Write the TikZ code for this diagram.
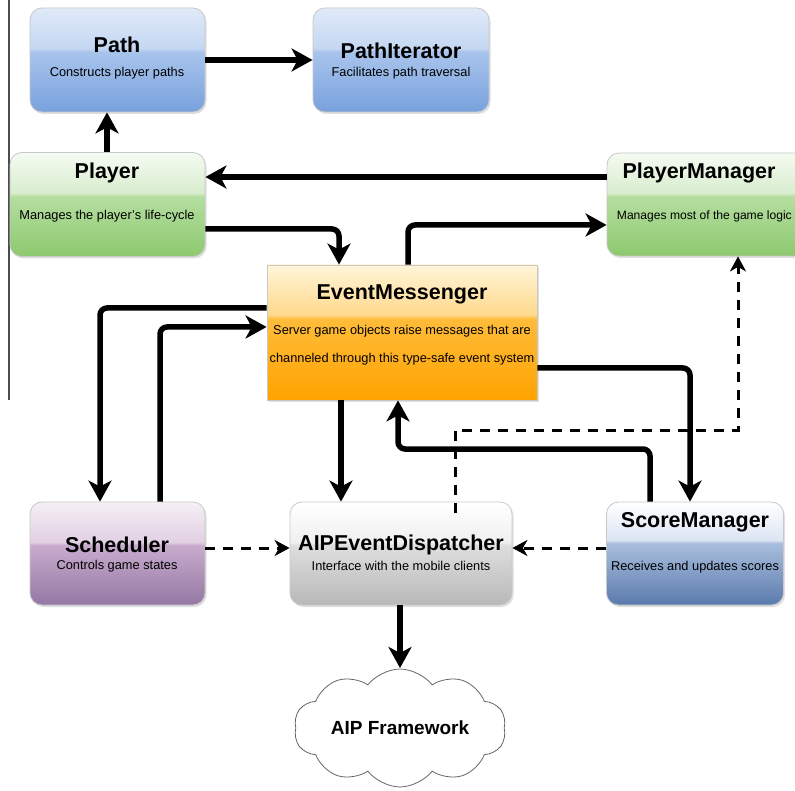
\documentclass[tikz,border=0pt]{standalone}
\usepackage{fontspec}
\setmainfont{Liberation Sans}
\usetikzlibrary{arrows.meta,shapes.symbols,shadows}

\definecolor{bT}{HTML}{E0EAF8}\definecolor{bM}{HTML}{C4D7F2}\definecolor{bL}{HTML}{A8C4EC}\definecolor{bB}{HTML}{78A1DC}
\definecolor{gT}{HTML}{F5FBF2}\definecolor{gM}{HTML}{D8EDCE}\definecolor{gL}{HTML}{B5DEA0}\definecolor{gB}{HTML}{8DC96F}
\definecolor{oT}{HTML}{FFF5D8}\definecolor{oM}{HTML}{FFD98C}\definecolor{oL}{HTML}{FFBC3A}\definecolor{oB}{HTML}{FFA300}
\definecolor{pT}{HTML}{F6EFF6}\definecolor{pM}{HTML}{E1D0E3}\definecolor{pL}{HTML}{C8ABCD}\definecolor{pB}{HTML}{9478A3}
\definecolor{kT}{HTML}{FFFFFF}\definecolor{kM}{HTML}{F0F0F0}\definecolor{kL}{HTML}{DEDEDE}\definecolor{kB}{HTML}{B8B8B8}
\definecolor{sT}{HTML}{FFFFFF}\definecolor{sM}{HTML}{DCE5F3}\definecolor{sL}{HTML}{A9BEDD}\definecolor{sB}{HTML}{5A7AAD}
\definecolor{edge}{HTML}{C8C8C8}

\pgfdeclareverticalshading{blueglass}{100bp}{color(0bp)=(bB); color(25bp)=(bB); color(54bp)=(bL); color(55.5bp)=(bM); color(75bp)=(bT); color(100bp)=(bT)}
\pgfdeclareverticalshading{greenglass}{100bp}{color(0bp)=(gB); color(25bp)=(gB); color(54bp)=(gL); color(55.5bp)=(gM); color(75bp)=(gT); color(100bp)=(gT)}
\pgfdeclareverticalshading{orangeglass}{100bp}{color(0bp)=(oB); color(25bp)=(oB); color(55bp)=(oL); color(56.5bp)=(oM); color(75bp)=(oT); color(100bp)=(oT)}
\pgfdeclareverticalshading{purpleglass}{100bp}{color(0bp)=(pB); color(25bp)=(pB); color(54bp)=(pL); color(55.5bp)=(pM); color(75bp)=(pT); color(100bp)=(pT)}
\pgfdeclareverticalshading{grayglass}{100bp}{color(0bp)=(kB); color(25bp)=(kB); color(54bp)=(kL); color(55.5bp)=(kM); color(75bp)=(kT); color(100bp)=(kT)}
\pgfdeclareverticalshading{steelglass}{100bp}{color(0bp)=(sB); color(25bp)=(sB); color(55bp)=(sL); color(56.5bp)=(sM); color(75bp)=(sT); color(100bp)=(sT)}

\tikzset{
  box/.style={rectangle, rounded corners=12pt, draw=edge, line width=0.8pt,
    inner sep=0pt, drop shadow={shadow xshift=1.5pt, shadow yshift=-2pt, opacity=0.25}},
  sqbox/.style={box, rounded corners=0pt},
  ttl/.style={font=\bfseries\fontsize{21.5}{23}\selectfont, inner sep=0pt},
  sub/.style={font=\fontsize{12.8}{14}\selectfont, inner sep=0pt},
  conn/.style={line width=5.5pt, rounded corners=7pt,
    -{Stealth[length=21pt,width=23pt,inset=6pt]}},
  dconn/.style={line width=3pt, dash pattern=on 10pt off 8pt,
    -{Stealth[length=15pt,width=16pt,inset=4.5pt]}},
}

\begin{document}
\begin{tikzpicture}[x=1pt,y=-1pt]
\useasboundingbox (0,0) rectangle (795,791);
\fill[white] (0,0) rectangle (795,791);
\draw[line width=1.4pt, black!70] (9,0) coordinate (lt) -- (9,400) coordinate (lb);

% boxes
\node[box, shading=blueglass, minimum width=175pt, minimum height=104pt] (path) at (117.5,60) {};
\node[box, shading=blueglass, minimum width=176pt, minimum height=104pt] (iter) at (401,60) {};
\node[box, shading=greenglass, minimum width=195pt, minimum height=104pt] (player) at (107.5,204.5) {};
\node[box, shading=greenglass, minimum width=203pt, minimum height=103pt] (pm) at (708.5,204.5) {};
\node[sqbox, shading=orangeglass, minimum width=270pt, minimum height=135pt] (em) at (402,332.5) {};
\node[box, shading=purpleglass, minimum width=175pt, minimum height=103pt] (sched) at (117.5,553.5) {};
\node[box, shading=grayglass, minimum width=222pt, minimum height=103pt] (aip) at (401,553.5) {};
\node[box, shading=steelglass, minimum width=177pt, minimum height=103pt] (score) at (695,553.5) {};
\node[cloud, cloud puffs=10, cloud puff arc=105, aspect=2, draw=black!60, line width=0.8pt,
  fill=white, minimum width=212pt, minimum height=118pt, inner sep=0pt] (cloud) at (400,728) {};

% texts
\node[ttl] (pathT) at (117,45) {Path};
\node[sub] (pathS) at (117,73) {Constructs player paths};
\node[ttl] (iterT) at (401,51) {PathIterator};
\node[sub] (iterS) at (401,73) {Facilitates path traversal};
\node[ttl] (playerT) at (107,173) {Player};
\node[sub] (playerS) at (107,216) {Manages the player's life-cycle};
\node[ttl] (pmT) at (699,173) {PlayerManager};
\node[sub, font=\fontsize{12.1}{14}\selectfont, anchor=east] (pmS) at (792,216) {Manages most of the game logic};
\node[ttl] (emT) at (402,294) {EventMessenger};
\node[sub] (emS1) at (402,331) {Server game objects raise messages that are};
\node[sub] (emS2) at (402,359) {channeled through this type-safe event system};
\node[ttl] (schedT) at (117,545) {Scheduler};
\node[sub] (schedS) at (117,566) {Controls game states};
\node[ttl] (aipT) at (401,545) {AIPEventDispatcher};
\node[sub] (aipS) at (401,566) {Interface with the mobile clients};
\node[ttl] (scoreT) at (695,522) {ScoreManager};
\node[sub] (scoreS) at (695,567) {Receives and updates scores};
\node[ttl, font=\bfseries\fontsize{19}{21}\selectfont] (cloudT) at (400,728) {AIP Framework};

% solid connectors
\draw[conn] (path.east |- 0,60) -- (iter.west |- 0,60);
\draw[conn] (player.north -| 107,0) -- (path.south -| 107,0);
\draw[conn] (pm.west |- 0,177) -- (player.east |- 0,177);
\draw[conn] (player.east |- 0,229) -| (em.north -| 339,0);
\draw[conn] (em.north -| 408,0) |- (pm.west |- 0,225);
\draw[conn] (em.west |- 0,308) -| (sched.north -| 100,0);
\draw[conn] (sched.north -| 160,0) |- (em.west |- 0,327);
\draw[conn] (em.south -| 341,0) -- (aip.north -| 341,0);
\draw[conn] (score.north -| 650,0) |- (398,449) -- (em.south -| 398,0);
\draw[conn] (em.east |- 0,368) -| (score.north -| 690,0);
\draw[conn] (aip.south -| 400,0) -- (400,668) coordinate (cloudTop);

% dashed connectors
\draw[dconn] (455,513) -- (455,430) -- (738,430) -- (pm.south -| 738,0);
\draw[dconn] (sched.east |- 0,548) -- (aip.west |- 0,548);
\draw[dconn] (score.west |- 0,548) -- (aip.east |- 0,548);
\end{tikzpicture}
\end{document}
